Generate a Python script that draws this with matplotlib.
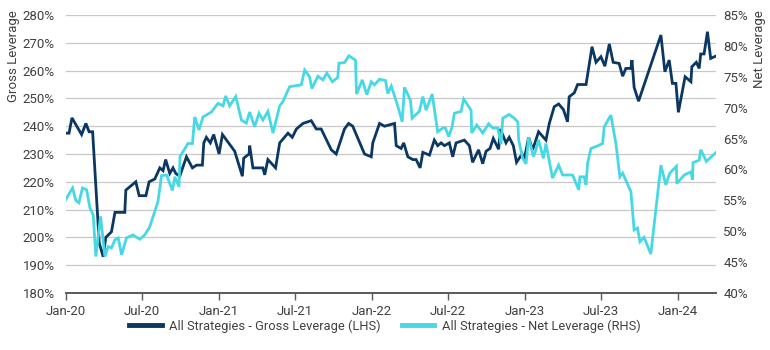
import pandas as pd
import numpy as np
import matplotlib.pyplot as plt

plt.rcParams['font.family'] = ['Roboto', 'DejaVu Sans']

# years elapsed since 1 Jan 2020
gross_t = [0.000, 0.022, 0.041, 0.104, 0.132, 0.153, 0.176, 0.219, 0.245, 0.262,
           0.299, 0.322, 0.386, 0.393, 0.458, 0.480, 0.524, 0.545, 0.582, 0.615,
           0.636, 0.653, 0.680, 0.701, 0.719, 0.745, 0.789, 0.828, 0.855, 0.893,
           0.902, 0.919, 0.945, 0.967, 1.002, 1.024, 1.104, 1.154, 1.163, 1.198,
           1.202, 1.223, 1.288, 1.300, 1.321, 1.371, 1.398, 1.452, 1.480, 1.507,
           1.550, 1.604, 1.637, 1.669, 1.735, 1.767, 1.821, 1.848, 1.875, 1.952,
           1.996, 2.006, 2.050, 2.083, 2.148, 2.159, 2.191, 2.208, 2.235, 2.267,
           2.289, 2.315, 2.333, 2.376, 2.408, 2.430, 2.452, 2.474, 2.506, 2.528,
           2.550, 2.604, 2.637, 2.658, 2.697, 2.724, 2.746, 2.772, 2.793, 2.828,
           2.839, 2.876, 2.897, 2.924, 2.945, 2.981, 2.995, 3.024, 3.050, 3.089,
           3.137, 3.159, 3.191, 3.220, 3.251, 3.278, 3.289, 3.322, 3.344, 3.399,
           3.438, 3.464, 3.496, 3.522, 3.551, 3.576, 3.615, 3.638, 3.659, 3.692,
           3.699, 3.713, 3.742, 3.888, 3.914, 3.942, 3.963, 3.986, 4.002, 4.046,
           4.084, 4.090, 4.119, 4.138, 4.148, 4.170, 4.192, 4.213, 4.250]
gross_lev = [237.5, 237.5, 243, 237, 241, 238, 238, 198, 193, 200,
             202, 209, 209, 217, 220, 215, 215, 220, 221, 225,
             224, 228, 223, 225, 223, 222, 229, 225, 226, 226,
             234, 236, 234, 237, 230, 237, 231, 222, 228.5, 230,
             233, 225, 225, 222.5, 228, 225, 234, 237.5, 236, 239,
             241, 242, 239, 239, 231.5, 230, 239, 241, 240, 230,
             229, 234, 241, 240, 241, 233, 232, 234, 229, 228,
             228, 225, 230.6, 229.6, 235, 233, 234, 233, 234, 229,
             234, 235, 233, 227, 231.5, 226.5, 231, 232, 235.6, 231.7,
             239, 234, 236, 233, 227, 230, 228, 236, 231.5, 238,
             235, 241, 247, 248, 246, 241.6, 250.6, 252, 255, 255,
             268.6, 263, 265, 261.6, 269.6, 263, 262.6, 258, 260.8, 260.8,
             263.8, 254, 249, 272.8, 259.6, 263.8, 255.4, 255.4, 245, 257.8,
             256, 261.4, 263, 260.8, 266, 266, 274, 264.4, 265.3]

net_t = [0.000, 0.045, 0.066, 0.086, 0.110, 0.137, 0.158, 0.180, 0.197, 0.228,
         0.256, 0.278, 0.299, 0.322, 0.343, 0.365, 0.397, 0.440, 0.484, 0.517,
         0.549, 0.603, 0.626, 0.659, 0.697, 0.713, 0.740, 0.747, 0.799, 0.828,
         0.843, 0.871, 0.897, 0.952, 0.995, 1.028, 1.045, 1.071, 1.111, 1.148,
         1.180, 1.202, 1.234, 1.263, 1.288, 1.321, 1.354, 1.398, 1.419, 1.463,
         1.539, 1.561, 1.593, 1.608, 1.648, 1.680, 1.706, 1.742, 1.777, 1.785,
         1.821, 1.850, 1.893, 1.900, 1.937, 1.967, 1.996, 2.017, 2.050, 2.089,
         2.104, 2.127, 2.170, 2.198, 2.213, 2.252, 2.263, 2.310, 2.333, 2.354,
         2.394, 2.430, 2.463, 2.481, 2.502, 2.524, 2.539, 2.583, 2.600, 2.648,
         2.652, 2.685, 2.724, 2.763, 2.789, 2.822, 2.844, 2.855, 2.897, 2.930,
         2.953, 2.959, 2.985, 3.007, 3.024, 3.055, 3.072, 3.089, 3.120, 3.137,
         3.180, 3.220, 3.246, 3.311, 3.351, 3.359, 3.387, 3.399, 3.409, 3.431,
         3.464, 3.507, 3.518, 3.561, 3.594, 3.620, 3.638, 3.692, 3.713, 3.735,
         3.751, 3.778, 3.822, 3.888, 3.920, 3.946, 3.989, 3.992, 4.040, 4.084,
         4.094, 4.098, 4.138, 4.148, 4.185, 4.246]
net_lev = [55.1, 57, 55, 54.6, 57, 56.7, 53.8, 52.6, 45.9, 52.4,
           45.9, 47.5, 47.3, 48.6, 48.9, 46.2, 48.9, 49.4, 48.7, 49.4,
           50.7, 54.8, 59, 59.1, 56.6, 58.8, 57.2, 62.1, 64.2, 64.2,
           68.5, 66.4, 68.5, 69.3, 70.7, 70.3, 71.9, 70.3, 71.8, 68,
           67.5, 69.3, 66.9, 69.1, 68, 69.4, 65.9, 70.3, 71, 73.4,
           73.7, 76.1, 75, 73.1, 75.1, 74.5, 75.6, 74.2, 74.9, 77.2,
           77.3, 78.4, 77.7, 72.2, 74.5, 72.1, 74.2, 73.7, 74.6, 74.4,
           72.3, 73.5, 70.2, 67.7, 73.3, 71.2, 68.3, 69.4, 71.8, 69.6,
           72.2, 66.1, 66.7, 66.7, 65.3, 66.9, 69.1, 69.4, 71.4, 69.6,
           65.9, 67.2, 65.9, 67.4, 66.7, 66.7, 64.1, 68.3, 68.9, 68.3,
           67.7, 64.8, 61.8, 60.9, 65.2, 62.1, 63.2, 64.8, 61.8, 64.2,
           58.6, 60.7, 59.1, 59.1, 56.7, 58.8, 58.8, 57.5, 61, 63.4,
           63.7, 64.2, 66.9, 68.8, 64.2, 58.8, 59.4, 56.4, 50.2, 50.5,
           48.3, 49, 46.3, 60.7, 57.5, 59.4, 60.5, 57.7, 59.1, 59.6,
           58.3, 61.1, 61.5, 63.2, 61.3, 62.7]

start = pd.Timestamp("2020-01-01")
gross_dates = start + pd.to_timedelta(np.array(gross_t) * 365.25, unit="D")
net_dates = start + pd.to_timedelta(np.array(net_t) * 365.25, unit="D")

tick_dates = pd.date_range("2020-01-01", "2024-01-01", freq="6MS")
tick_labels = [d.strftime("%b-%y") for d in tick_dates]

navy = "#0b3763"
cyan = "#46d9e5"
txt = "#404040"

fig = plt.figure(figsize=(7.7, 3.5), dpi=100)
ax = fig.add_axes([0.0853, 0.163, 0.845, 0.794])
ax2 = ax.twinx()

ax.plot(gross_dates, gross_lev, color=navy, lw=2.0, solid_joinstyle="miter",
        label="All Strategies - Gross Leverage (LHS)")
ax2.plot(net_dates, net_lev, color=cyan, lw=2.0, solid_joinstyle="miter",
         label="All Strategies - Net Leverage (RHS)")

ax.set_xlim(start, start + pd.Timedelta(days=4.25 * 365.25))
ax.set_ylim(180, 280)
ax2.set_ylim(40, 85)
ax.set_yticks(np.arange(180, 281, 10))
ax.set_yticklabels([f"{v}%" for v in range(180, 281, 10)])
ax2.set_yticks(np.arange(40, 86, 5))
ax2.set_yticklabels([f"{v}%" for v in range(40, 86, 5)])
ax.set_xticks(tick_dates)
ax.set_xticklabels(tick_labels)

ax.grid(axis="y", color="#c8c8c8", lw=0.9)
ax.set_axisbelow(True)
for a in (ax, ax2):
    for s in ("top", "left", "right"):
        a.spines[s].set_visible(False)
    a.spines["bottom"].set_color("#595959")
    a.spines["bottom"].set_linewidth(1.2)
ax.tick_params(axis="y", length=0, pad=8, labelsize=9.5, labelcolor=txt)
ax2.tick_params(axis="y", length=0, pad=5, labelsize=9.5, labelcolor=txt)
ax.tick_params(axis="x", length=5, width=1, color="#595959", pad=4,
               labelsize=9.5, labelcolor=txt)

fig.text(0.018, 0.97, "Gross Leverage", rotation=90, va="top", ha="center",
         fontsize=9.5, color=txt)
fig.text(0.986, 0.97, "Net Leverage", rotation=90, va="top", ha="center",
         fontsize=9.5, color=txt)

h1, l1 = ax.get_legend_handles_labels()
h2, l2 = ax2.get_legend_handles_labels()
leg = fig.legend(h1 + h2, l1 + l2, loc="center", bbox_to_anchor=(0.5, 0.068),
                 ncol=2, frameon=False, fontsize=9.3, handlelength=2.5,
                 columnspacing=1.6, handletextpad=0.6)
for line in leg.get_lines():
    line.set_linewidth(3.5)
for t in leg.get_texts():
    t.set_color(txt)

fig.savefig("out.png", dpi=100)
